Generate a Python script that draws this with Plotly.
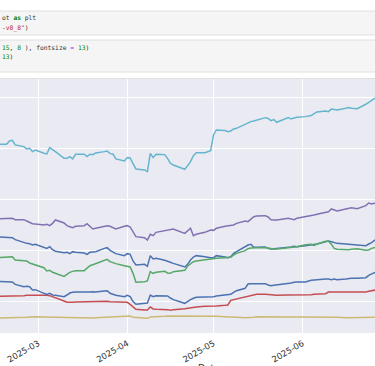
import plotly.graph_objects as go

# ---------------- data ----------------
feb_days = [14, 18, 19, 20, 21, 24, 25, 26, 27, 28]
mar_days = [3, 4, 5, 6, 7, 10, 11, 12, 13, 14, 17, 18, 19, 20, 21, 24, 25, 26, 27, 28, 31]
apr_days = [1, 2, 3, 4, 7, 8, 9, 10, 11, 14, 15, 16, 17, 21, 22, 23, 24, 25, 28, 29, 30]
may_days = [1, 2, 5, 6, 7, 8, 9, 12, 13, 14, 15, 16, 19, 20, 21, 22, 23, 27, 28, 29, 30]
jun_days = [2, 3, 4, 5, 6, 9, 10, 11, 12, 13, 16, 17, 18, 20, 23, 24, 25, 26, 27]

dates = ([f"2025-02-{d:02d}" for d in feb_days] + [f"2025-03-{d:02d}" for d in mar_days]
         + [f"2025-04-{d:02d}" for d in apr_days] + [f"2025-05-{d:02d}" for d in may_days]
         + [f"2025-06-{d:02d}" for d in jun_days])

series_blue_upper = [
    226.7, 226.1, 225.4, 224.7, 220.8, 214.3, 213.6, 213.0, 210.4, 211.7,
    205.1, 203.8, 207.1, 201.2, 198.0, 195.3, 196.0, 193.4, 197.3, 196.0, 194.7, 192.1, 196.0, 196.6, 197.3, 203.8, 205.1, 199.9, 196.0, 193.4, 189.5,
    193.4, 192.1, 179.0, 171.2, 172.5, 168.5, 189.5, 182.9, 184.2, 180.3, 179.0, 176.4, 174.4, 167.2, 172.5, 181.0, 186.8, 189.5, 187.5, 186.2, 185.5,
    185.5, 189.5, 186.8, 185.5, 187.5, 194.0, 197.3, 206.4, 210.4, 211.7, 205.8, 205.8, 206.4, 203.8, 202.5, 203.2, 203.8, 205.1, 206.4, 207.8, 207.1,
    209.1, 209.7, 211.0, 211.7, 212.3, 216.9, 218.2, 216.9, 215.0, 213.6, 212.3, 211.7, 211.0, 209.7, 209.1, 212.3, 215.0, 219.5, 222.1]

series_green = [
    185.5, 186.2, 186.8, 187.5, 181.0, 179.0, 179.0, 175.1, 173.1, 172.5,
    165.9, 159.4, 160.7, 156.8, 154.8, 148.9, 152.9, 156.8, 158.7, 160.0, 160.0, 164.6, 169.8, 171.8, 173.8, 181.0, 182.3, 177.7, 175.7, 173.8, 169.8,
    169.2, 167.2, 154.8, 137.2, 138.5, 139.8, 158.1, 154.8, 156.8, 158.7, 155.5, 154.8, 158.1, 160.7, 169.2, 174.4, 177.7, 179.0, 181.6, 182.3, 182.9,
    183.6, 184.2, 185.5, 185.5, 186.2, 190.8, 194.0, 199.3, 203.2, 204.5, 205.1, 205.1, 205.1, 203.8, 202.5, 202.5, 202.5, 204.5, 205.8, 206.4, 207.1,
    211.0, 211.7, 211.7, 209.7, 212.3, 217.6, 217.6, 211.7, 203.8, 201.9, 200.6, 201.2, 201.9, 203.2, 199.9, 200.6, 203.8, 205.1, 206.4]

series_red = [
    109.7, 109.7, 110.4, 111.0, 111.0, 111.0, 111.7, 111.7, 112.3, 113.0,
    113.0, 111.7, 111.0, 109.1, 107.1, 100.6, 98.0, 97.3, 98.0, 98.6, 99.3, 99.3, 99.3, 99.3, 99.9, 99.9, 99.9, 99.3, 99.3, 99.3, 98.6,
    98.0, 94.0, 89.4, 84.2, 82.9, 82.9, 88.8, 84.9, 84.2, 84.2, 83.6, 82.3, 83.6, 85.5, 86.2, 87.5, 88.8, 88.8, 90.1, 90.1, 90.8,
    90.8, 90.8, 92.1, 92.7, 101.9, 103.2, 105.1, 108.4, 109.7, 111.7, 113.0, 113.6, 113.6, 113.0, 112.3, 112.3, 111.7, 112.3, 112.3, 112.3, 111.7,
    112.3, 112.3, 113.0, 113.6, 113.6, 114.9, 118.2, 118.2, 117.6, 117.6, 117.6, 116.9, 117.6, 117.6, 118.2, 119.5, 120.8, 122.1, 122.8]

series_purple = [
    261.3, 261.3, 262.0, 262.7, 260.0, 260.0, 257.4, 254.8, 252.2, 251.5,
    249.6, 250.9, 248.3, 252.8, 259.4, 253.5, 248.3, 246.3, 244.4, 247.0, 248.3, 252.2, 246.3, 241.7, 243.1, 247.6, 248.3, 247.0, 244.4, 241.7, 247.0,
    248.3, 245.7, 235.2, 226.7, 224.7, 220.2, 231.3, 228.7, 235.2, 239.1, 239.8, 240.4, 241.7, 233.2, 239.1, 243.1, 228.7, 231.3, 235.2, 237.8, 239.8,
    239.1, 243.1, 247.0, 248.3, 248.3, 249.6, 252.8, 257.4, 256.1, 261.3, 265.9, 267.2, 267.9, 265.3, 260.0, 259.4, 259.4, 262.7, 261.3, 260.0, 262.7,
    265.3, 266.6, 268.5, 269.2, 270.5, 273.8, 275.7, 281.0, 279.0, 277.0, 281.0, 282.3, 283.6, 281.6, 287.5, 292.7, 290.8, 292.1, 292.7]

series_yellow = [
    67.2, 67.2, 67.2, 67.9, 67.9, 67.9, 68.5, 69.2, 69.8, 69.8,
    69.2, 68.5, 68.5, 68.5, 68.5, 67.9, 67.9, 67.9, 67.2, 67.2, 67.2, 67.2, 67.2, 67.2, 67.9, 68.5, 68.5, 69.2, 69.2, 69.8, 69.8,
    70.5, 71.2, 68.5, 67.9, 66.6, 66.6, 69.2, 69.2, 69.8, 70.5, 71.2, 71.2, 71.8, 71.8, 71.8, 71.8, 71.8, 71.2, 71.2, 71.2, 70.5,
    70.5, 70.5, 69.8, 69.2, 69.2, 68.5, 68.5, 67.9, 67.9, 67.9, 68.5, 69.8, 69.8, 69.8, 69.8, 69.2, 69.2, 69.2, 69.2, 69.2, 69.2,
    69.2, 69.2, 69.2, 69.2, 69.2, 69.2, 68.5, 68.5, 68.5, 68.5, 67.9, 67.9, 67.9, 67.2, 67.2, 67.9, 67.9, 68.5, 68.5]

series_cyan = [
    407.9, 408.0, 414.4, 415.7, 406.6, 403.3, 398.7, 400.0, 393.5, 396.7,
    390.2, 388.9, 401.3, 396.7, 393.5, 380.4, 380.4, 383.7, 379.1, 388.3, 388.3, 383.7, 388.3, 387.6, 390.9, 393.5, 394.8, 389.5, 388.9, 379.1, 375.2,
    381.7, 381.1, 370.0, 359.5, 357.5, 354.3, 390.2, 381.7, 388.3, 387.6, 380.4, 370.6, 367.3, 358.8, 366.0, 373.9, 385.6, 391.5, 391.5, 394.1, 395.4,
    426.2, 436.0, 434.7, 432.7, 434.0, 437.9, 439.2, 447.7, 449.0, 452.3, 453.6, 454.9, 460.1, 458.8, 454.3, 456.2, 451.0, 460.1, 457.5, 459.5, 460.8,
    462.1, 462.8, 464.1, 468.0, 471.3, 473.2, 471.9, 477.1, 476.5, 475.2, 478.5, 479.8, 478.5, 477.8, 486.3, 490.2, 494.1, 498.1, 501.3]

series_blue_lower = [
    139.1, 139.1, 139.1, 137.8, 133.2, 128.7, 129.3, 128.7, 122.1, 122.8,
    115.6, 113.6, 115.6, 112.3, 111.7, 109.1, 112.3, 116.2, 117.6, 118.2, 118.2, 117.6, 118.2, 118.9, 118.2, 120.2, 120.8, 115.6, 113.6, 111.7, 109.1,
    111.7, 109.1, 99.3, 94.0, 95.3, 96.6, 112.3, 109.1, 111.0, 111.0, 110.4, 106.4, 103.2, 96.0, 99.9, 103.2, 105.8, 107.8, 108.4, 108.4, 108.4,
    109.1, 110.4, 112.3, 113.0, 113.6, 117.6, 120.8, 125.4, 133.9, 134.5, 134.5, 134.5, 134.5, 131.9, 130.6, 131.3, 131.9, 134.5, 135.9, 137.2, 137.8,
    137.8, 139.8, 141.1, 141.7, 142.4, 143.7, 143.7, 142.4, 143.7, 142.4, 143.7, 144.4, 145.0, 145.0, 146.3, 150.9, 154.2, 156.1, 157.4]

series = [
    ("Series 1", series_blue_upper, "#4C72B0"),
    ("Series 2", series_green, "#55A868"),
    ("Series 3", series_red, "#C44E52"),
    ("Series 4", series_purple, "#8172B2"),
    ("Series 5", series_yellow, "#CCB974"),
    ("Series 6", series_cyan, "#64B5CD"),
    ("Series 7", series_blue_lower, "#4C72B0"),
]

y_ticks = [100, 200, 300, 400, 500]

# ---------------- figure ----------------
W, H = 375, 366
T, B = 79, 33
PH = H - T - B


def py(p):
    """pixel row -> paper y"""
    return (H - B - p) / PH


fig = go.Figure()
for name, vals, col in series:
    fig.add_trace(go.Scatter(x=dates, y=vals, mode="lines", name=name,
                             line=dict(color=col, width=1.5)))

shapes = []
for top, bot in [(11, 35), (40, 72)]:
    shapes.append(dict(type="rect", xref="paper", yref="paper", x0=-0.05, x1=1.05,
                       y0=py(bot), y1=py(top), fillcolor="#f5f5f5",
                       line=dict(color="#e0e0e0", width=1), layer="above"))
shapes.append(dict(type="line", xref="paper", yref="paper", x0=0, x1=1,
                   y0=py(78.5), y1=py(78.5), line=dict(color="#e0e0e0", width=1)))

mono = dict(family="DejaVu Sans Mono", size=6.3, color="#333333")
code_lines = [
    (18, 'ot <b><span style="color:#008000">as</span></b> plt'),
    (28, '<span style="color:#BA2121">-v0_8"</span>)'),
    (47, '<span style="color:#008800">15</span>, <span style="color:#008800">8</span> ), fontsize '
         '<span style="color:#AA22FF">=</span> <span style="color:#008800">13</span>)'),
    (57, '<span style="color:#008800">13</span>)'),
]
annotations = []
for row, txt in code_lines:
    annotations.append(dict(text=txt, xref="paper", yref="paper", x=0.0, y=py(row),
                            xanchor="left", yanchor="middle", showarrow=False, font=mono))
annotations.append(dict(text="Date", xref="paper", yref="paper", x=209 / W, y=py(361),
                        xanchor="center", yanchor="top", showarrow=False,
                        font=dict(family="DejaVu Sans", size=9, color="#333333")))

fig.update_layout(
    width=W, height=H,
    margin=dict(l=0, r=0, t=T, b=B, pad=0),
    paper_bgcolor="white", plot_bgcolor="#EAEAF2",
    showlegend=False,
    shapes=shapes, annotations=annotations,
    xaxis=dict(type="date", range=["2025-02-15 17:00", "2025-06-26 04:30"],
               tick0="2025-01-01", dtick="M1", tickformat="%Y-%m", tickangle=-30,
               showgrid=True, gridcolor="white", gridwidth=1, zeroline=False,
               showline=False, ticks="", ticklabelstandoff=3,
               tickfont=dict(family="DejaVu Sans", size=8.5, color="#333333")),
    yaxis=dict(range=[37.8, 535.9], tickvals=y_ticks, showticklabels=False,
               showgrid=True, gridcolor="white", gridwidth=1, zeroline=False,
               showline=False, ticks=""),
)

fig.write_html("out.html", config={"displayModeBar": False},
               post_script="document.body.style.margin='0';document.body.style.overflow='hidden';")
